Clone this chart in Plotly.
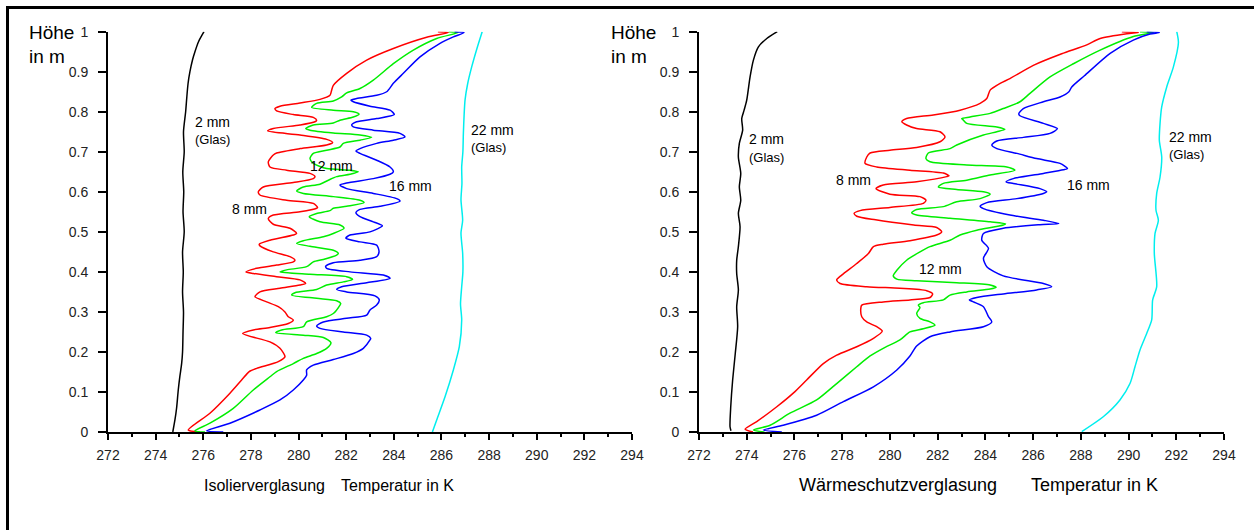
import plotly.graph_objects as go

# ---- Isolierverglasung (left panel): temperature in K vs. height in m ----
iso_glas2_T = [274.72, 274.81, 274.88, 274.95, 275.02, 275.09, 275.13, 275.15, 275.17, 275.13, 275.16, 275.13,
               275.20, 275.15, 275.18, 275.14, 275.20, 275.17, 275.26, 275.30, 275.36, 275.44, 275.55, 275.65,
               275.80, 276.03]
iso_glas2_H = [0.0, 0.03, 0.06, 0.105, 0.14, 0.17, 0.2, 0.25, 0.3, 0.35, 0.4, 0.45, 0.5, 0.55, 0.6, 0.65, 0.7,
               0.75, 0.8, 0.83, 0.87, 0.9, 0.93, 0.95, 0.975, 1.0]

iso_glas22_T = [285.62, 285.80, 286.15, 286.50, 286.75, 286.85, 286.80, 286.85, 286.90, 286.89, 286.82, 286.89,
                286.82, 286.86, 286.85, 286.90, 286.92, 286.95, 286.99, 287.10, 287.27, 287.50, 287.71]
iso_glas22_H = [0.0, 0.03, 0.088, 0.155, 0.213, 0.28, 0.32, 0.363, 0.4, 0.447, 0.497, 0.529, 0.58, 0.62, 0.662,
                0.7, 0.746, 0.79, 0.829, 0.87, 0.912, 0.96, 1.0]

iso_8mm_T = [275.85, 275.37, 276.28, 277.12, 277.61, 277.93, 278.24, 279.15, 279.43, 279.22, 278.80, 277.65,
             278.10, 278.80, 279.57, 279.78, 279.57, 279.43, 279.15, 278.66, 278.17, 278.38, 279.22, 280.06,
             280.30, 280.06, 279.08, 278.10, 277.79, 278.24, 279.08, 279.78, 279.85, 279.64, 278.94, 278.38,
             278.35, 278.80, 279.78, 279.92, 279.64, 278.94, 278.73, 278.94, 280.06, 280.76, 280.80, 280.62,
             279.50, 278.38, 278.31, 278.52, 279.78, 280.62, 280.69, 280.48, 279.50, 278.80, 278.73, 278.94,
             279.08, 280.06, 281.18, 281.43, 281.18, 280.06, 278.70, 278.94, 280.06, 280.69, 280.76, 280.62,
             279.78, 279.08, 279.01, 279.22, 280.06, 280.90, 281.32, 281.39, 281.46, 282.02, 282.86, 283.98,
             285.38, 286.29, 285.85]
iso_8mm_H = [0.0, 0.005, 0.047, 0.097, 0.13, 0.151, 0.159, 0.176, 0.188, 0.209, 0.225, 0.246,
             0.255, 0.261, 0.271, 0.28, 0.288, 0.3, 0.313, 0.325, 0.338, 0.35, 0.359, 0.367,
             0.371, 0.38, 0.388, 0.396, 0.4, 0.409, 0.417, 0.425, 0.429, 0.438, 0.45, 0.465,
             0.469, 0.479, 0.492, 0.496, 0.509, 0.519, 0.533, 0.542, 0.55, 0.559, 0.561, 0.571,
             0.579, 0.592, 0.6, 0.612, 0.623, 0.633, 0.638, 0.646, 0.654, 0.662, 0.675, 0.692,
             0.697, 0.708, 0.717, 0.723, 0.731, 0.742, 0.752, 0.758, 0.767, 0.775, 0.779, 0.786,
             0.793, 0.802, 0.808, 0.814, 0.822, 0.831, 0.841, 0.854, 0.866, 0.896, 0.929, 0.958,
             0.986, 0.998, 1.0]

iso_12mm_T = [276.07, 275.65, 276.28, 277.26, 278.10, 278.80, 279.08, 279.78, 280.20, 280.76, 281.18, 281.36,
              281.04, 280.20, 279.04, 279.29, 280.20, 280.34, 281.18, 281.46, 281.74, 281.77, 281.60, 280.76,
              279.71, 279.85, 280.76, 281.18, 281.88, 282.27, 282.02, 280.48, 279.22, 279.50, 280.34, 280.62,
              281.04, 281.60, 281.67, 281.46, 280.48, 279.92, 280.20, 281.04, 281.46, 281.91, 281.74, 280.90,
              280.45, 280.76, 281.32, 281.46, 282.02, 282.75, 282.58, 281.46, 280.20, 279.92, 280.20, 280.90,
              281.25, 281.60, 282.16, 282.51, 282.16, 281.18, 280.62, 280.48, 280.62, 281.18, 281.74, 281.88,
              282.58, 283.07, 282.58, 281.46, 280.48, 280.30, 280.62, 281.46, 281.74, 282.30, 282.54, 282.30,
              281.46, 280.55, 280.76, 281.46, 281.81, 282.02, 282.58, 283.14, 283.98, 284.82, 285.80, 286.70,
              286.30]
iso_12mm_H = [0.0, 0.003, 0.022, 0.059, 0.105, 0.138, 0.151, 0.171, 0.184, 0.196, 0.209, 0.223,
              0.236, 0.242, 0.248, 0.255, 0.263, 0.275, 0.288, 0.296, 0.317, 0.321, 0.328, 0.334,
              0.342, 0.348, 0.356, 0.367, 0.375, 0.381, 0.388, 0.394, 0.4, 0.405, 0.413, 0.425,
              0.431, 0.442, 0.446, 0.454, 0.464, 0.471, 0.478, 0.488, 0.496, 0.509, 0.517, 0.525,
              0.538, 0.546, 0.553, 0.559, 0.564, 0.573, 0.579, 0.588, 0.596, 0.602, 0.612, 0.619,
              0.629, 0.638, 0.644, 0.65, 0.654, 0.658, 0.671, 0.683, 0.696, 0.704, 0.712, 0.721,
              0.729, 0.736, 0.742, 0.747, 0.754, 0.758, 0.767, 0.772, 0.779, 0.787, 0.794, 0.8,
              0.804, 0.811, 0.821, 0.827, 0.837, 0.847, 0.858, 0.879, 0.92, 0.954, 0.983, 0.998,
              1.0]

iso_16mm_T = [276.84, 276.14, 277.12, 278.38, 279.22, 279.78, 280.20, 280.34, 280.34, 280.62, 281.46, 282.30,
              282.72, 283.00, 283.03, 282.86, 281.88, 280.90, 280.76, 281.04, 282.02, 282.86, 283.00, 283.28,
              283.39, 283.21, 282.02, 281.60, 281.81, 282.86, 283.84, 283.56, 282.16, 281.18, 281.14, 281.46,
              282.58, 283.28, 283.38, 283.28, 282.58, 281.99, 282.16, 283.00, 283.52, 283.14, 282.58, 282.41,
              282.58, 283.42, 284.26, 284.12, 283.14, 282.02, 281.74, 282.02, 283.14, 283.84, 283.98, 283.84,
              283.28, 282.58, 282.41, 282.58, 283.28, 283.98, 284.47, 284.26, 283.14, 282.30, 282.23, 282.44,
              283.28, 284.02, 283.84, 283.00, 282.30, 282.20, 282.44, 283.28, 283.70, 283.98, 284.40, 285.10,
              285.94, 286.50, 286.95, 286.55]
iso_16mm_H = [0.0, 0.003, 0.022, 0.055, 0.08, 0.105, 0.13, 0.142, 0.155, 0.167, 0.181, 0.196,
              0.209, 0.23, 0.234, 0.242, 0.25, 0.259, 0.265, 0.275, 0.284, 0.292, 0.305, 0.317,
              0.33, 0.34, 0.35, 0.356, 0.363, 0.373, 0.384, 0.392, 0.4, 0.409, 0.414, 0.423,
              0.429, 0.438, 0.45, 0.467, 0.475, 0.484, 0.492, 0.5, 0.515, 0.525, 0.538, 0.548,
              0.556, 0.564, 0.577, 0.583, 0.596, 0.608, 0.617, 0.622, 0.633, 0.644, 0.65, 0.662,
              0.679, 0.696, 0.702, 0.708, 0.721, 0.729, 0.737, 0.746, 0.754, 0.762, 0.767, 0.775,
              0.783, 0.793, 0.804, 0.814, 0.825, 0.829, 0.833, 0.841, 0.85, 0.871, 0.896, 0.937,
              0.971, 0.987, 0.998, 1.0]

# ---- Wärmeschutzverglasung (right panel) ----
ws_glas2_T = [273.34, 273.30, 273.33, 273.41, 273.52, 273.62, 273.58, 273.65, 273.58, 273.58, 273.65, 273.72,
              273.65, 273.75, 273.69, 273.75, 273.65, 273.69, 273.83, 273.79, 273.89, 274.00, 274.14, 274.28,
              274.49, 274.84, 275.28]
ws_glas2_H = [0.003, 0.013, 0.063, 0.13, 0.196, 0.263, 0.313, 0.355, 0.396, 0.429, 0.463, 0.513,
              0.546, 0.579, 0.612, 0.646, 0.687, 0.721, 0.754, 0.783, 0.804, 0.829, 0.887, 0.929,
              0.962, 0.983, 1.0]

ws_glas22_T = [288.04, 288.94, 289.64, 290.06, 290.27, 290.48, 290.76, 290.97, 291.01, 291.18, 291.08, 291.11,
               291.25, 291.15, 291.18, 291.32, 291.39, 291.29, 291.32, 291.39, 291.60, 291.88, 292.09, 292.02]
ws_glas22_H = [0.001, 0.038, 0.08, 0.121, 0.163, 0.205, 0.246, 0.28, 0.33, 0.363, 0.446, 0.496,
               0.529, 0.554, 0.596, 0.637, 0.687, 0.729, 0.771, 0.812, 0.862, 0.912, 0.973, 1.0]

ws_8mm_T = [274.26, 273.93, 274.42, 275.26, 275.95, 276.51, 277.21, 277.77, 278.61, 279.31, 279.68, 279.45,
            279.03, 278.82, 278.78, 278.82, 279.72, 280.84, 281.68, 281.79, 281.54, 280.42, 279.03, 277.91,
            277.77, 277.98, 278.61, 279.10, 279.31, 279.72, 280.84, 281.96, 282.17, 281.96, 281.00, 279.40,
            278.61, 278.50, 278.75, 280.00, 281.40, 281.51, 281.26, 280.00, 279.42, 279.72, 281.12, 282.38,
            282.48, 282.24, 280.84, 279.45, 278.96, 279.03, 279.17, 280.00, 281.12, 282.10, 282.31, 282.10,
            281.12, 280.70, 280.50, 280.70, 281.82, 282.94, 283.78, 284.06, 284.20, 284.62, 285.03, 286.01,
            287.20, 288.25, 288.81, 289.93, 290.41, 289.72]
ws_8mm_H = [0.0, 0.007, 0.026, 0.063, 0.097, 0.13, 0.171, 0.192, 0.213, 0.234, 0.252, 0.263,
            0.275, 0.288, 0.309, 0.317, 0.325, 0.33, 0.336, 0.345, 0.353, 0.359, 0.363, 0.371,
            0.38, 0.392, 0.421, 0.446, 0.463, 0.469, 0.478, 0.492, 0.5, 0.511, 0.517, 0.53,
            0.539, 0.546, 0.553, 0.561, 0.571, 0.579, 0.588, 0.594, 0.608, 0.617, 0.625, 0.638,
            0.64, 0.647, 0.654, 0.662, 0.671, 0.687, 0.697, 0.704, 0.711, 0.725, 0.737, 0.75,
            0.758, 0.767, 0.775, 0.783, 0.792, 0.804, 0.821, 0.833, 0.854, 0.871, 0.883, 0.916,
            0.945, 0.967, 0.983, 0.995, 0.998, 1.0]

ws_12mm_T = [274.74, 274.28, 274.98, 275.81, 276.93, 277.77, 278.61, 279.17, 279.72, 280.42, 280.84, 281.40,
             281.89, 281.68, 281.26, 281.12, 281.26, 281.19, 281.40, 282.24, 282.52, 283.22, 284.20, 284.45,
             284.20, 282.80, 281.12, 280.29, 280.14, 280.29, 280.70, 281.26, 281.68, 282.52, 282.94, 283.64,
             284.75, 284.85, 284.20, 282.52, 281.12, 280.91, 281.12, 282.24, 282.80, 283.78, 284.20, 283.92,
             282.80, 282.03, 282.24, 283.22, 284.20, 285.24, 284.90, 283.22, 281.68, 281.51, 281.61, 282.52,
             282.80, 283.92, 284.48, 284.82, 284.48, 283.22, 283.08, 283.01, 283.36, 284.20, 284.75, 285.45,
             285.87, 286.71, 287.69, 288.81, 290.20, 291.04, 290.48]
ws_12mm_H = [0.0, 0.005, 0.017, 0.047, 0.08, 0.121, 0.163, 0.19, 0.209, 0.23, 0.25, 0.258,
             0.267, 0.275, 0.284, 0.296, 0.311, 0.317, 0.323, 0.33, 0.342, 0.35, 0.357, 0.361,
             0.367, 0.373, 0.378, 0.382, 0.39, 0.404, 0.429, 0.45, 0.463, 0.479, 0.492, 0.504,
             0.517, 0.52, 0.525, 0.534, 0.542, 0.548, 0.556, 0.563, 0.575, 0.583, 0.594, 0.6,
             0.606, 0.612, 0.621, 0.629, 0.642, 0.654, 0.662, 0.667, 0.675, 0.683, 0.697, 0.708,
             0.717, 0.742, 0.75, 0.756, 0.762, 0.771, 0.779, 0.783, 0.787, 0.796, 0.808, 0.825,
             0.846, 0.887, 0.92, 0.954, 0.988, 0.998, 1.0]

ws_16mm_T = [275.47, 274.70, 275.53, 276.93, 278.05, 279.31, 280.29, 280.84, 281.12, 281.68, 282.52, 283.92,
             284.27, 284.13, 283.92, 283.50, 283.33, 283.64, 284.75, 286.15, 286.78, 286.43, 284.75, 284.06,
             283.92, 284.13, 283.85, 283.92, 284.75, 286.29, 287.08, 286.43, 285.03, 283.92, 283.78, 284.06,
             285.32, 286.43, 286.57, 286.29, 285.17, 284.87, 285.17, 286.43, 287.27, 287.44, 287.13, 286.15,
             285.32, 284.48, 284.27, 284.48, 285.59, 286.71, 287.02, 286.43, 285.45, 285.40, 285.59, 286.43,
             287.13, 287.50, 287.62, 288.15, 289.23, 290.20, 290.90, 291.29, 290.76]
ws_16mm_H = [0.0, 0.005, 0.017, 0.042, 0.076, 0.113, 0.155, 0.19, 0.215, 0.238, 0.25, 0.263,
             0.275, 0.288, 0.313, 0.325, 0.33, 0.336, 0.345, 0.355, 0.363, 0.371, 0.39, 0.413,
             0.434, 0.459, 0.479, 0.496, 0.509, 0.518, 0.521, 0.529, 0.542, 0.558, 0.564, 0.573,
             0.583, 0.596, 0.6, 0.608, 0.621, 0.625, 0.633, 0.646, 0.655, 0.658, 0.671, 0.683,
             0.696, 0.708, 0.717, 0.727, 0.736, 0.746, 0.758, 0.771, 0.79, 0.795, 0.808, 0.825,
             0.837, 0.85, 0.862, 0.89, 0.946, 0.979, 0.994, 0.998, 1.0]

panel_titles = ["Isolierverglasung", "Wärmeschutzverglasung"]
x_title = "Temperatur in K"
y_title = ["Höhe", "in m"]
x_ticks = list(range(272, 295, 2))
y_ticks = [0, 0.1, 0.2, 0.3, 0.4, 0.5, 0.6, 0.7, 0.8, 0.9, 1]

FONT = "Liberation Sans"
colors = {"2": "#000000", "8": "#ff0000", "12": "#00ee00", "16": "#0000ff", "22": "#00eeee"}

fig = go.Figure()

panels = [
    ("x", "y", [(iso_glas2_T, iso_glas2_H, "2"), (iso_glas22_T, iso_glas22_H, "22"),
                (iso_8mm_T, iso_8mm_H, "8"), (iso_12mm_T, iso_12mm_H, "12"), (iso_16mm_T, iso_16mm_H, "16")]),
    ("x2", "y2", [(ws_glas2_T, ws_glas2_H, "2"), (ws_glas22_T, ws_glas22_H, "22"),
                  (ws_8mm_T, ws_8mm_H, "8"), (ws_12mm_T, ws_12mm_H, "12"), (ws_16mm_T, ws_16mm_H, "16")]),
]
for xa, ya, series in panels:
    for T, H, key in series:
        fig.add_trace(go.Scatter(
            x=T, y=H, mode="lines", xaxis=xa, yaxis=ya,
            line=dict(color=colors[key], width=1.5, shape="spline", smoothing=0.7),
            showlegend=False, hoverinfo="skip"))

axis_common = dict(showgrid=False, zeroline=False, showline=True, linecolor="black", linewidth=2,
                   ticks="outside", tickcolor="black", tickwidth=1.5, automargin=False,
                   tickfont=dict(family=FONT, size=14, color="#222"))
x_common = dict(axis_common, range=[272, 294], tickvals=x_ticks, ticklen=6,
                minor=dict(dtick=1, tick0=272, ticks="outside", ticklen=3, tickcolor="black", tickwidth=1.5),
                ticklabelstandoff=3)
y_common = dict(axis_common, range=[0, 1], tickvals=y_ticks, ticklen=8, ticklabelstandoff=7)

y_dom = [98 / 530, (530 - 31.7) / 530]
fig.update_layout(
    width=1254, height=530, autosize=False,
    margin=dict(l=0, r=0, t=0, b=0, pad=0, autoexpand=False),
    paper_bgcolor="white", plot_bgcolor="rgba(0,0,0,0)",
    xaxis=dict(x_common, domain=[108 / 1254, 632 / 1254], anchor="y"),
    yaxis=dict(y_common, domain=y_dom, anchor="x"),
    xaxis2=dict(x_common, domain=[699 / 1254, 1224 / 1254], anchor="y2"),
    yaxis2=dict(y_common, domain=y_dom, anchor="x2"),
)

ann = []


def lab(xref, yref, x, y, text, anchor="left", size=14):
    ann.append(dict(xref=xref, yref=yref, x=x, y=y, text=text, showarrow=False, xanchor=anchor,
                    yanchor="middle", font=dict(family=FONT, size=size, color="black")))


def paper_text(px, py, text, anchor, size):
    ann.append(dict(xref="paper", yref="paper", x=px / 1254, y=(530 - py) / 530, text=text,
                    showarrow=False, xanchor=anchor, yanchor="middle",
                    font=dict(family=FONT, size=size, color="black")))


# curve labels
lab("x", "y", 275.57, 0.775, "2 mm")
lab("x", "y", 275.57, 0.731, "(Glas)", size=13)
lab("x", "y", 277.92, 0.558, "8 mm", "center")
lab("x", "y", 281.38, 0.664, "12 mm", "center")
lab("x", "y", 284.68, 0.615, "16 mm", "center")
lab("x", "y", 287.17, 0.754, "22 mm")
lab("x", "y", 287.17, 0.71, "(Glas)", size=13)

lab("x2", "y2", 274.0, 0.731, "2 mm")
lab("x2", "y2", 274.0, 0.685, "(Glas)", size=13)
lab("x2", "y2", 278.48, 0.629, "8 mm", "center")
lab("x2", "y2", 282.13, 0.406, "12 mm", "center")
lab("x2", "y2", 288.32, 0.617, "16 mm", "center")
lab("x2", "y2", 291.6, 0.737, "22 mm")
lab("x2", "y2", 291.6, 0.692, "(Glas)", size=13)

# axis captions: height label top-left, glazing type + temperature label under each axis
for x0, title, t_start, t_end, fs in [(27, panel_titles[0], 202, 456, 16),
                                      (609, panel_titles[1], 797, 1160, 18)]:
    paper_text(x0, 33, y_title[0], "left", 19)
    paper_text(x0, 57, y_title[1], "left", 19)
    paper_text(t_start, 485, title, "left", fs)
    paper_text(t_end, 485, x_title, "right", fs)
fig.update_layout(annotations=ann)

# outer frame: top and left edges
fig.add_shape(type="line", xref="paper", yref="paper", x0=7 / 1254, x1=1.0, y0=(530 - 7.5) / 530,
              y1=(530 - 7.5) / 530, line=dict(color="black", width=3))
fig.add_shape(type="line", xref="paper", yref="paper", x0=7.5 / 1254, x1=7.5 / 1254, y0=0,
              y1=(530 - 6) / 530, line=dict(color="black", width=3))

page_css = ("document.documentElement.style.margin='0';document.body.style.margin='0';"
            "document.body.style.overflow='hidden';")
fig.write_html("out.html", post_script=page_css)
